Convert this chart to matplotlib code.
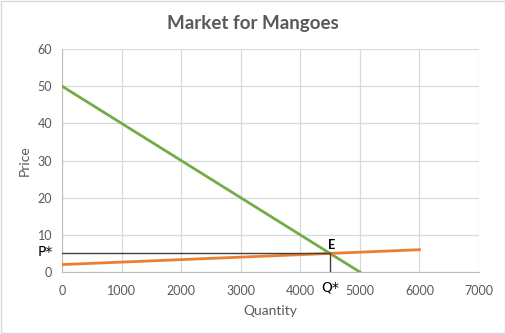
import matplotlib
matplotlib.use('Agg')
import matplotlib.pyplot as plt

plt.rcParams['font.family'] = ['Lato', 'DejaVu Sans']

# demand and supply lines
demand_q = [0, 5000]
demand_p = [50, 0]
supply_q = [0, 6000]
supply_p = [2, 6]

# equilibrium
eq_q = 4500
eq_p = 5

x_ticks = [0, 1000, 2000, 3000, 4000, 5000, 6000, 7000]
y_ticks = [0, 10, 20, 30, 40, 50, 60]

grey = '#595959'
grid_col = '#d9d9d9'

fig = plt.figure(figsize=(5.06, 3.34), dpi=100)
ax = fig.add_axes([0.1225, 0.1856, 0.8241, 0.6677])

ax.plot(demand_q, demand_p, color='#70ad47', lw=2, zorder=3)
ax.plot(supply_q, supply_p, color='#ed7d31', lw=2, zorder=3)
ax.plot([0, eq_q], [eq_p, eq_p], color='#404040', lw=1, zorder=4)
ax.plot([eq_q, eq_q], [0, eq_p], color='#404040', lw=1, zorder=4)

ax.set_xlim(0, 7000)
ax.set_ylim(0, 60)
ax.set_xticks(x_ticks)
ax.set_yticks(y_ticks)
ax.tick_params(length=0, colors=grey, labelsize=9, pad=9)
ax.tick_params(axis='y', pad=7)
ax.grid(True, color=grid_col, lw=0.9)
ax.set_axisbelow(True)
for s in ['top', 'right']:
    ax.spines[s].set_visible(False)
for s in ['left', 'bottom']:
    ax.spines[s].set_color('#bfbfbf')

ax.set_xlabel('Quantity', color=grey, fontsize=10, labelpad=6)
ax.set_ylabel('Price', color=grey, fontsize=10)
ax.yaxis.set_label_coords(-0.075, 0.5)
fig.suptitle('Market for Mangoes', x=0.5, y=0.955, fontsize=13.5,
             fontweight='bold', color=grey)

ax.annotate('P*', xy=(0, eq_p), xytext=(-12, 1), textcoords='offset points',
            ha='center', va='center', fontsize=10, color='black',
            family=['DejaVu Sans'])
ax.annotate('Q*', xy=(eq_q, 0), xytext=(0, -11), textcoords='offset points',
            ha='center', va='center', fontsize=10, color='black',
            family=['DejaVu Sans'])
ax.annotate('E', xy=(eq_q, eq_p), xytext=(1, 6), textcoords='offset points',
            ha='center', va='center', fontsize=9, fontweight='bold', color='black')

fig.patches.append(plt.Rectangle((0.002, 0.003), 0.996, 0.994, transform=fig.transFigure,
                                 fill=False, edgecolor='#d9d9d9', lw=1))

fig.savefig('out.png', dpi=100)
